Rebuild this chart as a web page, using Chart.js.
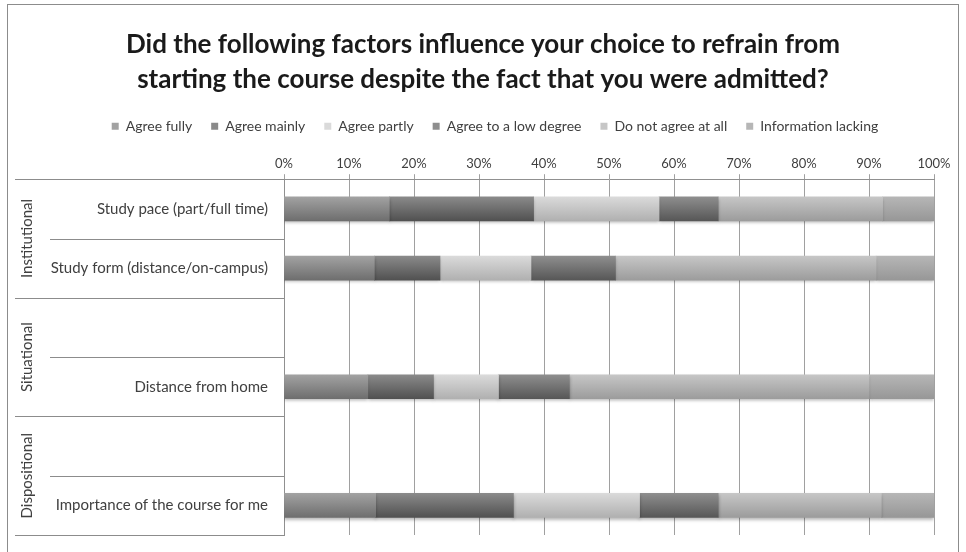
<!DOCTYPE html>
<html>
<head>
<meta charset="utf-8">
<script src="https://cdn.jsdelivr.net/npm/chart.js@4.4.0/dist/chart.umd.min.js"></script>
<style>
  html, body { margin: 0; padding: 0; background: #fff; }
  #wrap { width: 966px; height: 552px; }
</style>
</head>
<body>
<div id="wrap"><canvas id="factorsChart" width="966" height="552"></canvas></div>
<script>
// Categories (rows), empty rows keep the group layout
const rowLabels = [
    'Study pace (part/full time)',
    'Study form (distance/on-campus)',
    '',
    'Distance from home',
    '',
    'Importance of the course for me'
];
const groupNames = ['Institutional', 'Situational', 'Dispositional'];

// Series values in percent
const agreeFully = [16.2, 13.9, null, 12.9, null, 14.1];
const agreeMainly = [22.2, 10.1, null, 10.1, null, 21.2];
const agreePartly = [19.3, 14.0, null, 10.0, null, 19.4];
const agreeLow = [9.1, 13.0, null, 10.9, null, 12.1];
const notAgree = [25.3, 40.1, null, 46.1, null, 25.1];
const infoLacking = [7.9, 8.9, null, 10.0, null, 8.1];

const tickValues = [0, 10, 20, 30, 40, 50, 60, 70, 80, 90, 100];

const seriesNames = ['Agree fully', 'Agree mainly', 'Agree partly', 'Agree to a low degree', 'Do not agree at all', 'Information lacking'];
const seriesData = [agreeFully, agreeMainly, agreePartly, agreeLow, notAgree, infoLacking];
// [top of gradient, bottom of gradient, legend colour]
const seriesShades = [
    ['#a2a2a2', '#6e6e6e', '#8a8a8a'],
    ['#8a8a8a', '#515151', '#6a6a6a'],
    ['#dadada', '#b0b0b0', '#cccccc'],
    ['#8e8e8e', '#575757', '#747474'],
    ['#c6c6c6', '#9c9c9c', '#b6b6b6'],
    ['#b6b6b6', '#979797', '#a8a8a8']
];

const BAR_THICK = 24;
const FONT = 'Lato, "Open Sans", sans-serif';

function barFill(i) {
    return function (ctx) {
        const shade = seriesShades[i];
        if (ctx.type !== 'data') return shade[2];
        const chart = ctx.chart;
        const yScale = chart.scales.y;
        if (!yScale || !chart.chartArea) return shade[2];
        const yc = yScale.getPixelForValue(ctx.dataIndex);
        const g = chart.ctx.createLinearGradient(0, yc - BAR_THICK / 2, 0, yc + BAR_THICK / 2);
        g.addColorStop(0, shade[0]);
        g.addColorStop(1, shade[1]);
        return g;
    };
}

const datasets = seriesNames.map(function (name, i) {
    return {
        label: name,
        data: seriesData[i],
        backgroundColor: barFill(i),
        borderWidth: 0,
        barThickness: BAR_THICK
    };
});

// soft shadow under the bars
const barShadow = {
    id: 'barShadow',
    beforeDatasetsDraw: function (chart) {
        const c = chart.ctx;
        c.save();
        c.shadowColor = 'rgba(0,0,0,0.28)';
        c.shadowBlur = 3;
        c.shadowOffsetY = 2;
    },
    afterDatasetsDraw: function (chart) {
        chart.ctx.restore();
    }
};

// legend sits a little right of the title in the original
const legendShift = {
    id: 'legendShift',
    afterLayout: function (chart) {
        chart.legend.left += 12;
        chart.legend.right += 12;
    }
};

// frame, row table on the left and rotated group names
const rowTable = {
    id: 'rowTable',
    afterDraw: function (chart) {
        const c = chart.ctx;
        const area = chart.chartArea;
        const n = rowLabels.length;
        const step = (area.bottom - area.top) / n;
        c.save();
        c.strokeStyle = '#8c8c8c';
        c.lineWidth = 1;
        // outer chart frame
        c.strokeRect(7.5, 4.5, 951, 600);
        for (let i = 0; i <= n; i++) {
            const y = Math.round(area.top + i * step) + 0.5;
            const x0 = (i % 2 === 0) ? 15 : 50;
            c.beginPath();
            c.moveTo(x0, y);
            c.lineTo(area.left, y);
            c.stroke();
        }
        c.fillStyle = '#404040';
        c.font = '15px ' + FONT;
        c.textAlign = 'center';
        c.textBaseline = 'middle';
        groupNames.forEach(function (g, k) {
            const yMid = area.top + (k * 2 + 1) * step;
            c.save();
            c.translate(27, yMid);
            c.rotate(-Math.PI / 2);
            c.fillText(g, 0, 0);
            c.restore();
        });
        c.restore();
    }
};

const config = {
    type: 'bar',
    data: { labels: rowLabels, datasets: datasets },
    options: {
        indexAxis: 'y',
        responsive: false,
        animation: false,
        layout: { padding: { left: 32, right: 32, top: 0, bottom: 17 } },
        plugins: {
            title: {
                display: true,
                text: ['Did the following factors influence your choice to refrain from',
                       'starting the course despite the fact that you were admitted?'],
                color: '#1a1a1a',
                font: { family: FONT, size: 26, weight: 'bold', lineHeight: 1.35 },
                padding: { top: 27, bottom: 3 }
            },
            legend: {
                position: 'top',
                labels: {
                    boxWidth: 7,
                    boxHeight: 7,
                    padding: 19,
                    color: '#404040',
                    font: { family: FONT, size: 14 }
                }
            },
            tooltip: { enabled: false }
        },
        scales: {
            x: {
                position: 'top',
                stacked: true,
                min: 0,
                max: 100,
                afterBuildTicks: function (scale) {
                    scale.ticks = tickValues.map(function (v) { return { value: v }; });
                },
                afterFit: function (scale) { scale.height = 36; },
                ticks: {
                    color: '#404040',
                    padding: 3,
                    font: { family: FONT, size: 13 },
                    callback: function (v) { return v + '%'; }
                },
                grid: { color: '#a0a0a0', tickLength: 5 },
                border: { color: '#909090' }
            },
            y: {
                stacked: true,
                afterFit: function (scale) { scale.width = 284 - 32; },
                ticks: {
                    color: '#404040',
                    padding: 8,
                    font: { family: FONT, size: 15 }
                },
                grid: { display: false },
                border: { color: '#909090' }
            }
        }
    },
    plugins: [barShadow, legendShift, rowTable]
};

const myChart = new Chart(document.getElementById('factorsChart'), config);
</script>
</body>
</html>
